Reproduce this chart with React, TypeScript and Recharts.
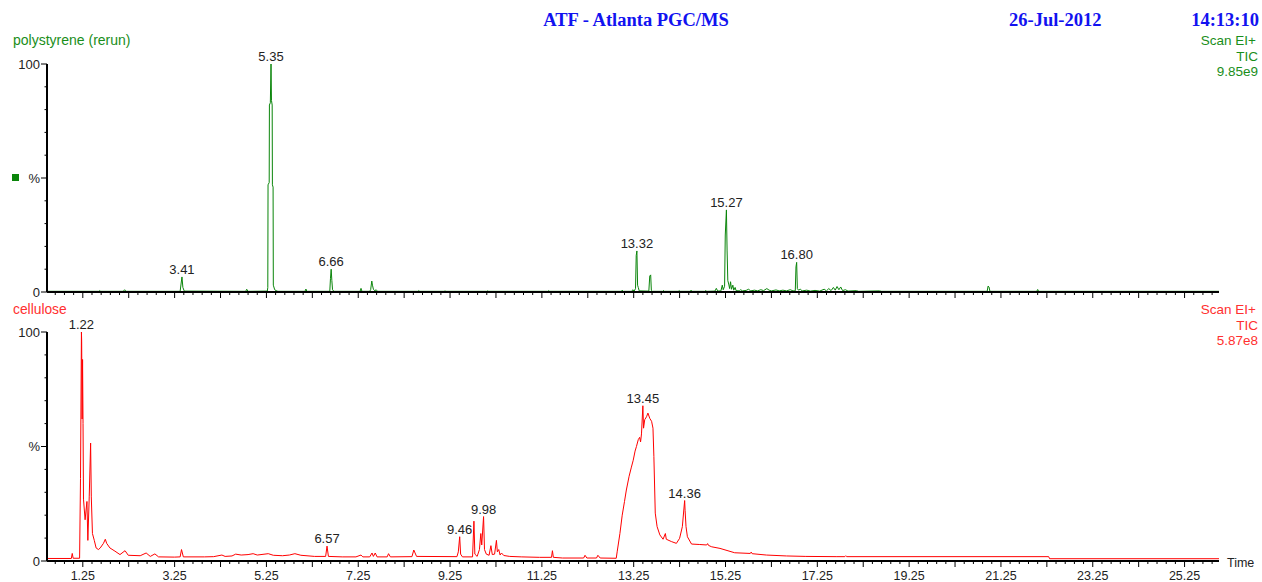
import { Line, LineChart, ReferenceDot, XAxis, YAxis } from 'recharts';

// Chromatogram: two stacked TIC traces (% of base peak) against retention time (min)

const TIME_DOMAIN: [number, number] = [0.47, 26.0];
const TIME_LABELS = ['1.25', '3.25', '5.25', '7.25', '9.25', '11.25', '13.25', '15.25', '17.25', '19.25', '21.25', '23.25', '25.25'];
const PCT_TICKS = [0, 10, 20, 30, 40, 50, 60, 70, 80, 90, 100];

// minor ticks every 0.2 min, long ones at x.25
const TIME_TICKS: number[] = [];
for (let i = 0; i <= 126; i++) TIME_TICKS.push(Math.round((0.65 + 0.2 * i) * 100) / 100);

// [time, %]
const polystyrene: [number, number][] = [
  [0.47, 0.3], [1.6, 0.3], [1.62, 0.6], [1.64, 0.3],
  [2.13, 0.3], [2.16, 1.0], [2.19, 0.3],
  [3.37, 0.3], [3.39, 3.5], [3.41, 6.6], [3.43, 2.0], [3.46, 0.4],
  [4.8, 0.3], [4.82, 1.2], [4.85, 0.3],
  [5.27, 0.4], [5.28, 2], [5.285, 47], [5.31, 48], [5.315, 82], [5.335, 83], [5.35, 100], [5.36, 84],
  [5.375, 82], [5.38, 47], [5.395, 46], [5.4, 3], [5.43, 1.0], [5.46, 0.6], [5.5, 0.3],
  [6.09, 0.3], [6.11, 1.3], [6.13, 0.3],
  [6.63, 0.3], [6.645, 6], [6.66, 10], [6.675, 5], [6.69, 1.0], [6.72, 0.3],
  [7.29, 0.3], [7.31, 1.6], [7.33, 0.3],
  [7.5, 0.3], [7.52, 1.0], [7.545, 4.8], [7.56, 3.0], [7.58, 1.2], [7.61, 0.5], [7.64, 1.0], [7.67, 0.3],
  [8.55, 0.3], [8.57, 0.6], [8.59, 0.3],
  [9.12, 0.3], [9.14, 0.5], [9.16, 0.3],
  [10.05, 0.3], [10.07, 0.5], [10.09, 0.3],
  [11.38, 0.3], [11.4, 0.6], [11.42, 0.3],
  [12.98, 0.3], [13.0, 0.8], [13.02, 0.3],
  [13.21, 0.3], [13.23, 1.0], [13.26, 0.4], [13.29, 1.5], [13.305, 16], [13.32, 18], [13.335, 3], [13.35, 2], [13.37, 0.5],
  [13.58, 0.4], [13.6, 7], [13.62, 7.5], [13.635, 0.6], [13.66, 0.3],
  [13.88, 0.3], [13.9, 0.7], [13.92, 0.3],
  [14.22, 0.3], [14.24, 0.6], [14.26, 0.3],
  [14.48, 0.3], [14.5, 0.8], [14.52, 0.3],
  [14.8, 0.3], [14.82, 0.7], [14.84, 0.3],
  [15.02, 0.4], [15.05, 1.6], [15.08, 0.4],
  [15.15, 0.5], [15.18, 3.0], [15.2, 1.0], [15.23, 2.5], [15.245, 25], [15.27, 36], [15.285, 18], [15.3, 5],
  [15.32, 3.5], [15.34, 1.5], [15.36, 4.5], [15.38, 1.2], [15.41, 3], [15.43, 0.8], [15.46, 2], [15.48, 0.6],
  [15.55, 0.5], [15.58, 1.0], [15.62, 0.5], [15.7, 0.7], [15.75, 1.2], [15.8, 0.5], [15.88, 0.8], [15.95, 0.5],
  [16.02, 1.0], [16.08, 0.6], [16.15, 1.5], [16.2, 0.8], [16.25, 0.5], [16.35, 0.9], [16.42, 0.5], [16.5, 0.8],
  [16.58, 0.5], [16.66, 1.0], [16.72, 0.5],
  [16.77, 0.5], [16.785, 11], [16.8, 13], [16.815, 1.5], [16.84, 0.8], [16.88, 1.2], [16.92, 0.5],
  [17.02, 0.8], [17.1, 0.4], [17.2, 0.7], [17.3, 0.4],
  [17.4, 1.2], [17.45, 0.5], [17.5, 1.5], [17.55, 0.6], [17.6, 2.0], [17.64, 0.8], [17.68, 2.4], [17.72, 1.0],
  [17.76, 2.2], [17.8, 0.6], [17.86, 1.0], [17.92, 0.4],
  [18.1, 0.6], [18.15, 0.3], [18.6, 0.5], [18.65, 0.3],
  [20.95, 0.3], [20.97, 2.6], [20.99, 2.2], [21.01, 0.3],
  [22.03, 0.3], [22.05, 1.1], [22.07, 0.3],
  [26.0, 0.3],
];

const cellulose: [number, number][] = [
  [0.47, 1.1], [1.0, 1.1], [1.02, 3.3], [1.04, 1.2], [1.18, 1.2], [1.2, 36], [1.22, 100], [1.225, 96],
  [1.235, 62], [1.245, 88], [1.255, 60], [1.265, 27], [1.3, 18], [1.34, 26], [1.36, 9], [1.39, 28],
  [1.42, 51.5], [1.435, 28], [1.46, 12], [1.5, 9], [1.54, 5.7], [1.59, 5], [1.63, 5.7], [1.7, 7.7],
  [1.74, 9.5], [1.77, 7.7], [1.84, 5.7], [1.95, 4.3], [2.06, 2.8], [2.17, 4.5], [2.24, 2.5], [2.5, 2.3],
  [2.63, 3.5], [2.72, 2.0], [2.82, 3.1], [2.9, 1.8], [3.25, 1.7], [3.37, 1.8], [3.4, 5], [3.44, 1.8],
  [3.9, 1.8], [4.1, 1.9], [4.28, 2.6], [4.35, 2.0], [4.5, 2.2], [4.58, 3.0], [4.7, 2.6], [4.85, 2.8],
  [4.96, 3.2], [5.05, 2.6], [5.29, 3.2], [5.4, 2.5], [5.6, 2.3], [5.75, 2.6], [5.87, 3.2], [6.0, 2.5],
  [6.3, 2.0], [6.54, 2.0], [6.57, 6.5], [6.6, 2.0], [6.9, 1.8], [7.2, 1.8], [7.31, 2.6], [7.35, 1.8],
  [7.5, 1.8], [7.55, 3.5], [7.58, 2.0], [7.62, 3.5], [7.66, 1.8], [7.88, 1.8], [7.91, 3.2], [7.95, 1.8],
  [8.42, 1.9], [8.46, 4.8], [8.52, 2.0], [9.4, 1.9], [9.43, 4], [9.46, 10.6], [9.48, 3], [9.52, 1.8],
  [9.74, 1.8], [9.77, 17.4], [9.79, 3], [9.84, 2], [9.89, 5], [9.92, 12], [9.94, 7], [9.98, 19.4],
  [10.0, 5], [10.04, 3], [10.1, 2.5], [10.14, 6.7], [10.17, 2.8], [10.22, 3], [10.26, 9], [10.28, 4],
  [10.31, 5], [10.34, 2.6], [10.37, 3.5], [10.42, 2.4], [10.55, 2.0], [10.8, 1.8], [11.2, 1.6],
  [11.46, 1.6], [11.48, 4.5], [11.5, 1.6], [11.7, 1.3], [12.16, 1.3], [12.19, 2.5], [12.23, 1.3],
  [12.44, 1.3], [12.47, 2.5], [12.52, 1.3], [12.87, 1.2],
  [12.89, 4], [12.95, 12], [13.0, 20], [13.05, 26], [13.09, 31], [13.15, 37], [13.2, 41], [13.24, 44],
  [13.28, 48], [13.31, 50], [13.35, 53], [13.38, 54], [13.4, 52], [13.42, 55.5], [13.45, 67.8],
  [13.465, 58], [13.49, 61.7], [13.53, 63], [13.56, 64.6], [13.6, 62.3], [13.64, 61], [13.67, 58],
  [13.69, 45.6], [13.72, 20.9], [13.76, 15], [13.82, 11.4], [13.89, 9.5], [13.94, 12], [13.96, 9.5],
  [14.07, 8.5], [14.18, 7.7], [14.25, 9.9], [14.31, 15], [14.36, 26.4], [14.37, 22], [14.39, 15],
  [14.42, 10.6], [14.51, 7.4], [14.69, 7.2], [14.84, 7.0], [14.86, 7.6], [14.88, 6.8], [14.95, 6.2],
  [15.13, 5.5], [15.45, 3.6], [15.79, 3.3], [15.81, 3.9], [15.83, 3.2], [16.14, 2.6], [16.58, 2.2],
  [17.0, 2.0], [17.66, 1.9], [17.85, 1.9], [17.87, 2.3], [17.89, 1.9], [22.29, 1.9], [22.31, 1.0],
  [26.0, 1.0],
];

const polystyrenePeaks = [
  { t: 3.41, v: 6.6, label: '3.41' },
  { t: 5.35, v: 100, label: '5.35' },
  { t: 6.66, v: 10, label: '6.66' },
  { t: 13.32, v: 18, label: '13.32' },
  { t: 15.27, v: 36, label: '15.27' },
  { t: 16.8, v: 13, label: '16.80' },
];

const cellulosePeaks = [
  { t: 1.22, v: 100, label: '1.22' },
  { t: 6.57, v: 6.5, label: '6.57' },
  { t: 9.46, v: 10.6, label: '9.46' },
  { t: 9.98, v: 19.4, label: '9.98' },
  { t: 13.45, v: 67.8, label: '13.45' },
  { t: 14.36, v: 26.4, label: '14.36' },
];

const GREEN = '#0a850a';
const GREEN_TEXT = '#1a8e1a';
const RED = '#ff0000';
const RED_TEXT = '#ff3030';
const BLUE = '#1212f0';
const INK = '#222';
const SANS = '"Liberation Sans", Arial, sans-serif';
const SERIF = '"Liberation Serif", "Times New Roman", serif';

function TimeTick(props: any) {
  const { x, y, payload, showLabel } = props;
  const key = Number(payload.value).toFixed(2);
  const long = key.endsWith('.25');
  return (
    <g>
      <line x1={x} y1={y} x2={x} y2={y + (long ? 6 : 3)} stroke="#000" strokeWidth={1} />
      {showLabel && TIME_LABELS.includes(key) && (
        <text x={x} y={y + 19} textAnchor="middle" fontSize={12.5} fontFamily={SANS} fill={INK}>
          {key}
        </text>
      )}
    </g>
  );
}

function PctTick(props: any) {
  const { x, y, payload } = props;
  const v = payload.value;
  const text = v === 100 ? '100' : v === 50 ? '%' : v === 0 ? '0' : '';
  return (
    <g>
      <line x1={x - (text ? 6 : 2.5)} y1={y} x2={x} y2={y} stroke="#000" strokeWidth={1} />
      {text && (
        <text x={x - 7} y={y + 4.5} textAnchor="end" fontSize={13} fontFamily={SANS} fill={INK}>
          {text}
        </text>
      )}
    </g>
  );
}

const peakLabel = (text: string) => (props: any) => {
  const vb = props.viewBox || {};
  return (
    <text x={vb.x + (vb.width || 0) / 2} y={vb.y - 3} textAnchor="middle" fontSize={13} fontFamily={SANS} fill={INK}>
      {text}
    </text>
  );
};

function Trace({
  data,
  peaks,
  color,
  height,
  top,
  xHeight,
  showLabels,
}: {
  data: [number, number][];
  peaks: { t: number; v: number; label: string }[];
  color: string;
  height: number;
  top: number;
  xHeight: number;
  showLabels: boolean;
}) {
  const rows = data.map(([t, v]) => ({ t, v }));
  return (
    <LineChart width={1262} height={height} data={rows} margin={{ top, right: 43, bottom: 0, left: 0 }}>
      <XAxis
        dataKey="t"
        type="number"
        domain={TIME_DOMAIN}
        ticks={TIME_TICKS}
        interval={0}
        allowDataOverflow
        height={xHeight}
        tickLine={false}
        tickSize={0}
        tickMargin={0}
        axisLine={{ stroke: '#000', strokeWidth: 2 }}
        tick={(p: any) => <TimeTick {...p} showLabel={showLabels} />}
      />
      <YAxis
        type="number"
        domain={[0, 100]}
        ticks={PCT_TICKS}
        interval={0}
        width={47}
        tickLine={false}
        tickSize={0}
        tickMargin={0}
        axisLine={{ stroke: '#000', strokeWidth: 2 }}
        tick={(p: any) => <PctTick {...p} />}
      />
      <Line
        type="linear"
        dataKey="v"
        stroke={color}
        strokeWidth={1}
        dot={false}
        activeDot={false}
        isAnimationActive={false}
      />
      {peaks.map((p) => (
        <ReferenceDot
          key={p.label}
          x={p.t}
          y={p.v}
          r={0}
          fill="none"
          stroke="none"
          label={peakLabel(p.label)}
        />
      ))}
    </LineChart>
  );
}

export default function App() {
  return (
    <div style={{ position: 'relative', width: 1262, height: 582, background: '#fff', overflow: 'hidden' }}>
      <style>{'body{margin:0}'}</style>
      <div style={{ position: 'absolute', left: 0, top: 0 }}>
        <Trace data={polystyrene} peaks={polystyrenePeaks} color={GREEN} height={300} top={64} xHeight={8} showLabels={false} />
      </div>
      <div style={{ position: 'absolute', left: 0, top: 300 }}>
        <Trace data={cellulose} peaks={cellulosePeaks} color={RED} height={282} top={32} xHeight={21} showLabels />
      </div>
      <svg width={1262} height={582} style={{ position: 'absolute', left: 0, top: 0, pointerEvents: 'none' }}>
        <g fontFamily={SERIF} fontWeight="bold" fontSize={18.5} fill={BLUE}>
          <text x={636} y={26} textAnchor="middle">ATF - Atlanta PGC/MS</text>
          <text x={1009} y={26}>26-Jul-2012</text>
          <text x={1259} y={26} textAnchor="end">14:13:10</text>
        </g>
        <g fontFamily={SANS} fontSize={13.5} fill={GREEN_TEXT}>
          <text x={13} y={45} fontSize={14}>polystyrene (rerun)</text>
          <text x={1256} y={45} textAnchor="end">Scan EI+</text>
          <text x={1258} y={61} textAnchor="end">TIC</text>
          <text x={1258} y={76} textAnchor="end">9.85e9</text>
        </g>
        <rect x={12} y={174} width={7} height={7} fill={GREEN} />
        <g fontFamily={SANS} fontSize={13.5} fill={RED_TEXT}>
          <text x={13} y={314} fontSize={13.8}>cellulose</text>
          <text x={1256} y={314} textAnchor="end">Scan EI+</text>
          <text x={1258} y={330} textAnchor="end">TIC</text>
          <text x={1258} y={345} textAnchor="end">5.87e8</text>
        </g>
        <text x={1227} y={567} fontFamily={SANS} fontSize={12.5} fill={INK}>Time</text>
      </svg>
    </div>
  );
}
